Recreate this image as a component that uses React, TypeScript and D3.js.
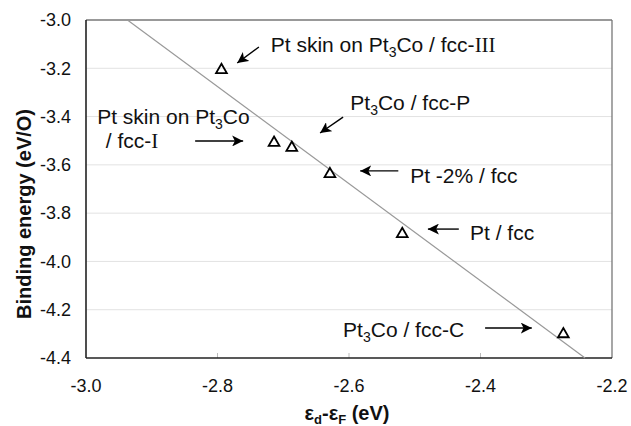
import React from "react";
import * as d3 from "d3";

// ---- data ----
const dBandCenter = [-2.794, -2.714, -2.687, -2.629, -2.519, -2.274];
const bindingEnergy = [-3.203, -3.504, -3.525, -3.634, -3.882, -4.297];
const fitX = [-2.937, -2.241];
const fitY = [-3.0, -4.4];
const xTicks = [-3.0, -2.8, -2.6, -2.4, -2.2];
const yTicks = [-3.0, -3.2, -3.4, -3.6, -3.8, -4.0, -4.2, -4.4];

// annotation arrows in data units: [tailX, tailY, tipX, tipY]
const arrows: [number, number, number, number][] = [
  [-2.737, -3.112, -2.770, -3.178],
  [-2.834, -3.501, -2.761, -3.501],
  [-2.609, -3.402, -2.644, -3.468],
  [-2.525, -3.625, -2.583, -3.625],
  [-2.433, -3.866, -2.480, -3.866],
  [-2.393, -4.276, -2.322, -4.276],
];

type Part = { t: string; sub?: boolean; roman?: boolean };
// labels: start x, baseline y (data units), parts
const labels: { x: number; y: number; parts: Part[] }[] = [
  { x: -2.719, y: -3.133, parts: [{ t: "Pt skin on Pt" }, { t: "3", sub: true }, { t: "Co / fcc-" }, { t: "III", roman: true }] },
  { x: -2.983, y: -3.431, parts: [{ t: "Pt skin on Pt" }, { t: "3", sub: true }, { t: "Co" }] },
  { x: -2.970, y: -3.530, parts: [{ t: "/ fcc-" }, { t: "I", roman: true }] },
  { x: -2.598, y: -3.373, parts: [{ t: "Pt" }, { t: "3", sub: true }, { t: "Co / fcc-P" }] },
  { x: -2.507, y: -3.675, parts: [{ t: "Pt -2% / fcc" }] },
  { x: -2.416, y: -3.911, parts: [{ t: "Pt / fcc" }] },
  { x: -2.609, y: -4.313, parts: [{ t: "Pt" }, { t: "3", sub: true }, { t: "Co / fcc-C" }] },
];

const W = 631;
const H = 426;
const margin = { left: 86, right: 19, top: 20, bottom: 68 };

const fmt = (v: number) => d3.format(".1f")(v).replace("\u2212", "-");

export default function App() {
  const x = d3.scaleLinear().domain([-3.0, -2.2]).range([margin.left, W - margin.right]);
  const y = d3.scaleLinear().domain([-4.4, -3.0]).range([H - margin.bottom, margin.top]);
  const x0 = x(-3.0), x1 = x(-2.2), y0 = y(-4.4), y1 = y(-3.0);
  const font = "'Liberation Sans', Arial, sans-serif";
  const roman = "'Liberation Serif', 'Times New Roman', serif";

  const tri = d3.symbol().type(d3.symbolTriangle).size(50)();

  const lineGen = d3.line<number>().x((_, i) => x(fitX[i])).y((_, i) => y(fitY[i]));

  return (
    <svg width={W} height={H} style={{ position: "absolute", left: 0, top: 0, background: "#fff" }}>
      <defs>
        <marker id="ah" viewBox="0 0 10 10" refX="10" refY="5" markerWidth="11" markerHeight="11" markerUnits="userSpaceOnUse" orient="auto">
          <path d="M0,0 L10,5 L0,10 L2.5,5 Z" fill="#000" />
        </marker>
      </defs>
      {/* grid */}
      {yTicks.slice(1, -1).map((t) => (
        <line key={t} x1={x0} x2={x1} y1={y(t)} y2={y(t)} stroke="#e2e2e2" strokeWidth={1} />
      ))}
      {/* x tick marks */}
      {xTicks.slice(1, -1).map((t) => (
        <line key={t} x1={x(t)} x2={x(t)} y1={y0} y2={y0 - 5} stroke="#bbb" strokeWidth={1} />
      ))}
      {/* frame */}
      <line x1={x0} x2={x1} y1={y1} y2={y1} stroke="#777" strokeWidth={1.3} />
      <line x1={x1} x2={x1} y1={y1} y2={y0} stroke="#777" strokeWidth={1.3} />
      <line x1={x0} x2={x0} y1={y1} y2={y0} stroke="#222" strokeWidth={1.6} />
      <line x1={x0} x2={x1} y1={y0} y2={y0} stroke="#222" strokeWidth={1.6} />
      {/* fit line */}
      <path d={lineGen(fitX) || ""} fill="none" stroke="#999" strokeWidth={1.2} />
      {/* points */}
      {dBandCenter.map((d, i) => (
        <path key={i} d={tri} transform={`translate(${x(d)},${y(bindingEnergy[i]) + 1})`} fill="none" stroke="#000" strokeWidth={1.8} />
      ))}
      {/* arrows */}
      {arrows.map((a, i) => (
        <line key={i} x1={x(a[0])} y1={y(a[1])} x2={x(a[2])} y2={y(a[3])} stroke="#000" strokeWidth={1.4} markerEnd="url(#ah)" />
      ))}
      {/* labels */}
      {labels.map((l, i) => (
        <text key={i} x={x(l.x)} y={y(l.y)} fontFamily={font} fontSize={21} fill="#111">
          {l.parts.map((p, j) =>
            p.sub ? (
              <tspan key={j} fontSize={14} dy={5}>{p.t}</tspan>
            ) : (
              <tspan key={j} fontFamily={p.roman ? roman : font} dy={j > 0 && l.parts[j - 1].sub ? -5 : 0}>{p.t}</tspan>
            )
          )}
        </text>
      ))}
      {/* tick labels */}
      {yTicks.map((t) => (
        <text key={t} x={x0 - 15} y={y(t)} dy="0.35em" textAnchor="end" fontFamily={font} fontSize={18} fill="#111">
          {fmt(t)}
        </text>
      ))}
      {xTicks.map((t) => (
        <text key={t} x={x(t)} y={y0 + 34} textAnchor="middle" fontFamily={font} fontSize={18} fill="#111">
          {fmt(t)}
        </text>
      ))}
      {/* axis titles */}
      <text transform={`translate(31,${(y0 + y1) / 2 + 25}) rotate(-90)`} textAnchor="middle" fontFamily={font} fontSize={20} fontWeight="bold" fill="#111">
        Binding energy (eV/O)
      </text>
      <text x={(x0 + x1) / 2 - 2} y={H - 6} textAnchor="middle" fontFamily={font} fontSize={20} fontWeight="bold" fill="#111">
        ε<tspan fontSize={13} dy={4}>d</tspan><tspan dy={-4}>-ε</tspan><tspan fontSize={13} dy={4}>F</tspan><tspan dy={-4}> (eV)</tspan>
      </text>
    </svg>
  );
}
